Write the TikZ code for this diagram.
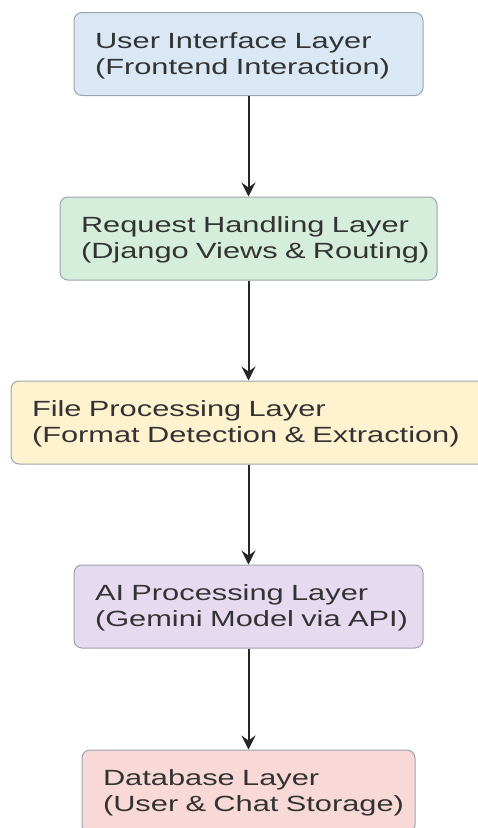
\documentclass[tikz,border=0pt]{standalone}
\usepackage{fontspec}
\setmainfont{Liberation Sans}[FakeStretch=1.40]
\usetikzlibrary{arrows.meta}
\definecolor{txt}{HTML}{333333}
\definecolor{bordc}{HTML}{9AA4AE}
\definecolor{cblue}{HTML}{DAE8F6}
\definecolor{cgreen}{HTML}{D5EDDB}
\definecolor{cyellow}{HTML}{FFF3CF}
\definecolor{cpurple}{HTML}{E5DAF0}
\definecolor{cred}{HTML}{F8D9D8}
\newcommand{\twolines}[2]{\mbox{\rule{0pt}{19.5pt}#1}\\\mbox{#2}}
\begin{document}
\begin{tikzpicture}[x=1pt,y=-1pt,
  layer/.style={draw=bordc, line width=1pt, rounded corners=8pt, align=left,
    text=txt, font=\fontsize{22}{26}\selectfont, inner xsep=21pt, inner ysep=0pt,
    minimum height=83pt},
  conn/.style={draw=black!85, line width=2pt, -{Stealth[length=14pt,width=14pt,inset=5pt]}}]
\useasboundingbox (0,0) rectangle (478,828);
\node[layer, fill=cblue, text width=307pt] (ui) at (248.5,54) {\twolines{User Interface Layer}{(Frontend Interaction)}};
\node[layer, fill=cgreen, text width=335pt] (req) at (248.5,238.5) {\twolines{Request Handling Layer}{(Django Views \& Routing)}};
\node[layer, fill=cyellow, text width=433pt] (file) at (248.5,422.5) {\twolines{File Processing Layer}{(Format Detection \& Extraction)}};
\node[layer, fill=cpurple, text width=307pt] (ai) at (248.5,606.5) {\twolines{AI Processing Layer}{(Gemini Model via API)}};
\node[layer, fill=cred, text width=291pt] (db) at (248.5,791.5) {\twolines{Database Layer}{(User \& Chat Storage)}};
\draw[conn] (ui) -- (req);
\draw[conn] (req) -- (file);
\draw[conn] (file) -- (ai);
\draw[conn] (ai) -- (db);
\end{tikzpicture}
\end{document}
